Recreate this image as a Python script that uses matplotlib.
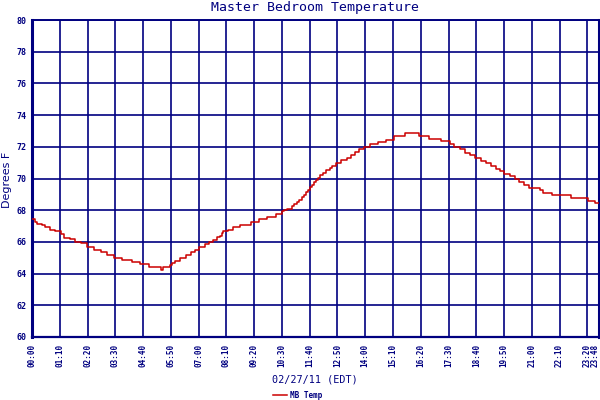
import matplotlib
matplotlib.use("Agg")
import matplotlib.pyplot as plt
import matplotlib.transforms as mtransforms
import numpy as np

# Step-change times (minutes after midnight) and temperatures (deg F)
minutes = [0, 8, 13, 24, 33, 45, 58, 72, 81, 96, 108, 123, 138, 156, 173, 188,
           206, 226, 251, 272, 295, 324, 331, 347, 354, 360, 373, 388, 400, 411,
           421, 436, 447, 457, 467, 473, 479, 482, 494, 507, 524, 553, 572, 593,
           614, 630, 634, 644, 655, 661, 668, 674, 680, 686, 691, 696, 701, 706,
           710, 716, 721, 727, 733, 742, 750, 757, 766, 778, 793, 805, 814, 824,
           836, 853, 872, 893, 912, 939, 976, 1001, 1030, 1053, 1065, 1078, 1091,
           1103, 1116, 1131, 1144, 1156, 1169, 1179, 1191, 1206, 1217, 1227, 1239,
           1253, 1280, 1288, 1312, 1358, 1401, 1418, 1428]
temps = [67.44, 67.27, 67.12, 67.06, 66.94, 66.77, 66.69, 66.48, 66.25, 66.19,
         66.0, 65.94, 65.7, 65.5, 65.37, 65.2, 65.0, 64.87, 64.72, 64.58, 64.39,
         64.2, 64.39, 64.56, 64.69, 64.8, 64.97, 65.18, 65.37, 65.52, 65.66,
         65.85, 66.0, 66.14, 66.29, 66.39, 66.56, 66.69, 66.77, 66.94, 67.08,
         67.25, 67.44, 67.6, 67.77, 67.92, 68.0, 68.08, 68.25, 68.42, 68.5, 68.62,
         68.81, 68.98, 69.12, 69.29, 69.46, 69.6, 69.75, 69.92, 70.06, 70.2,
         70.35, 70.52, 70.69, 70.8, 70.95, 71.15, 71.28, 71.47, 71.66, 71.83,
         71.96, 72.15, 72.29, 72.46, 72.67, 72.84, 72.69, 72.48, 72.35, 72.16,
         71.99, 71.83, 71.64, 71.47, 71.28, 71.11, 70.95, 70.78, 70.63, 70.46,
         70.27, 70.15, 69.97, 69.77, 69.62, 69.43, 69.26, 69.09, 68.95, 68.76,
         68.59, 68.44, 68.44]

tick_minutes = [0, 70, 140, 210, 280, 350, 420, 490, 560, 630, 700, 770, 840,
                910, 980, 1050, 1120, 1190, 1260, 1330, 1400, 1428]
tick_labels = ["00:00", "01:10", "02:20", "03:30", "04:40", "05:50", "07:00",
               "08:10", "09:20", "10:30", "11:40", "12:50", "14:00", "15:10",
               "16:20", "17:30", "18:40", "19:50", "21:00", "22:10", "23:20",
               "23:48"]
y_ticks = list(range(60, 81, 2))

navy = "#000080"
red = "#CC0000"
mono = "DejaVu Sans Mono"

fig = plt.figure(figsize=(6, 4), dpi=100)
ax = fig.add_axes([32/600, 1 - 337/400, 566.5/600, 317/400])

ax.plot(minutes, temps, drawstyle="steps-post", color=red, lw=1.1,
        label="MB Temp", zorder=3)

ax.set_xlim(0, 1428)
ax.set_ylim(60, 80)
ax.set_xticks(tick_minutes)
ax.set_xticklabels(tick_labels, rotation=90, fontsize=5.5, fontweight="bold",
                   family=mono, color=navy)
ax.set_yticks(y_ticks)
ax.set_yticklabels([str(v) for v in y_ticks], fontsize=6, fontweight="bold",
                   family=mono, color=navy)
ax.tick_params(axis="both", length=0)
ax.tick_params(axis="x", pad=5)
ax.tick_params(axis="y", pad=4)
ax.grid(True, color=navy, lw=1.2)
ax.set_axisbelow(True)
for side, lw in [("left", 2.2), ("right", 2.2), ("top", 1.4), ("bottom", 1.6)]:
    ax.spines[side].set_color(navy)
    ax.spines[side].set_linewidth(lw)

# nudge the last tick label left so it stays inside the figure
last = ax.get_xticklabels()[-1]
last.set_transform(last.get_transform() +
                   mtransforms.ScaledTranslation(-3.5/100, 0, fig.dpi_scale_trans))

fig.text(315/600, 1 - 8/400, "Master Bedroom Temperature", ha="center",
         va="center", color=navy, family=mono, fontsize=9.5)
fig.text(7/600, 1 - 180/400, "Degrees F", rotation=90, ha="center",
         va="center", color=navy, family="DejaVu Sans", fontsize=8)
fig.text(315/600, 1 - 380/400, "02/27/11 (EDT)", ha="center", va="center",
         color=navy, family=mono, fontsize=7.3)

leg = fig.legend(loc="center", bbox_to_anchor=(298/600, 1 - 395/400),
                 frameon=False, prop={"family": mono, "size": 5.5,
                                      "weight": "bold"},
                 handlelength=1.8, handletextpad=0.4, borderpad=0)
for t in leg.get_texts():
    t.set_color(navy)

fig.savefig("out.png", dpi=100, facecolor="white")
